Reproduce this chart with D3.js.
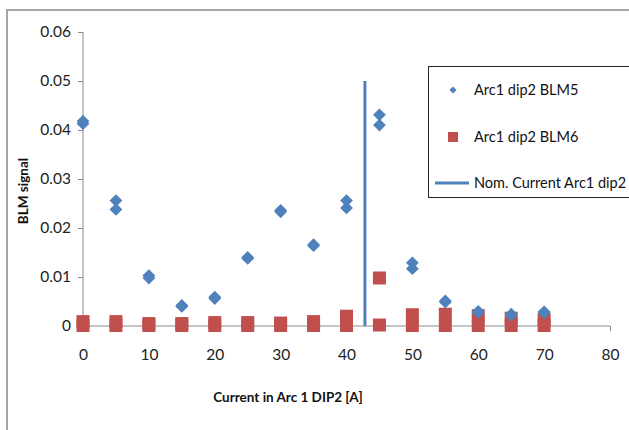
<!DOCTYPE html>
<html>
<head>
<meta charset="utf-8">
<script src="https://cdn.jsdelivr.net/npm/d3@7"></script>
<style>
  body { margin: 0; background: #fff; }
  svg { display: block; font-family: Lato, "Open Sans", sans-serif; }
</style>
</head>
<body>
<div id="chart"></div>
<script>
// currents (A) for each measurement, two readings per setting
var currents = [0, 0, 5, 5, 10, 10, 15, 15, 20, 20, 25, 25, 30, 30, 35, 35,
                40, 40, 45, 45, 50, 50, 55, 55, 60, 60, 65, 65, 70, 70];
var blm5 = [0.0418, 0.0413, 0.0256, 0.0238, 0.0103, 0.0098, 0.0042, 0.0040,
            0.0059, 0.0056, 0.0140, 0.0138, 0.0236, 0.0233, 0.0166, 0.0164,
            0.0256, 0.0241, 0.0431, 0.0410, 0.0129, 0.0117, 0.0051, 0.0049,
            0.0030, 0.0028, 0.0024, 0.0022, 0.0029, 0.0027];
var blm6 = [0.0009, 0.0001, 0.0009, 0.0001, 0.0005, 0.0001, 0.0005, 0.0001,
            0.0007, 0.0001, 0.0007, 0.0001, 0.0006, 0.0001, 0.0009, 0.0001,
            0.0020, 0.0001, 0.0098, 0.0002, 0.0023, 0.0001, 0.0024, 0.0001,
            0.0021, 0.0001, 0.0016, 0.0001, 0.0013, 0.0001];
var nomCurrent = [42.8, 42.8];
var nomSignal = [0, 0.05];
var xTicks = [0, 10, 20, 30, 40, 50, 60, 70, 80];
var yTicks = [0, 0.01, 0.02, 0.03, 0.04, 0.05, 0.06];
var legendNames = ["Arc1 dip2 BLM5", "Arc1 dip2 BLM6", "Nom. Current Arc1 dip2"];

var width = 629, height = 430;
var blue = "#4f81bd", red = "#c0504d", axisGrey = "#8c8c8c";

var svg = d3.select("#chart").append("svg")
    .attr("width", width)
    .attr("height", height);

// outer chart frame (runs off the right and bottom)
svg.append("rect")
    .attr("x", 7).attr("y", 10)
    .attr("width", 700).attr("height", 500)
    .attr("fill", "none")
    .attr("stroke", "#a6a6a6")
    .attr("stroke-width", 2);

var x = d3.scaleLinear().domain([0, 80]).range([83, 610]);
var y = d3.scaleLinear().domain([0, 0.06]).range([326, 32]);

// y axis
var yAxis = svg.append("g")
    .attr("transform", "translate(" + x(0) + ",0)")
    .call(d3.axisLeft(y).tickValues(yTicks).tickSize(5).tickPadding(7)
        .tickFormat(function (d) { return d === 0 ? "0" : d3.format(".2f")(d); }));
yAxis.selectAll("path, line").attr("stroke", axisGrey);
yAxis.select(".domain").attr("d", "M0," + y(0.06) + "V" + y(0));
yAxis.selectAll("text").attr("font-size", 15.5).attr("fill", "#222")
    .attr("font-family", "Lato, sans-serif");

// x axis
var xAxis = svg.append("g")
    .attr("transform", "translate(0," + y(0) + ")")
    .call(d3.axisBottom(x).tickValues(xTicks).tickSize(5).tickPadding(18));
xAxis.selectAll("path, line").attr("stroke", axisGrey);
xAxis.select(".domain").attr("d", "M" + x(0) + ",0H" + x(80));
xAxis.selectAll("text").attr("font-size", 15.5).attr("fill", "#222")
    .attr("font-family", "Lato, sans-serif");

// axis titles
svg.append("text")
    .attr("x", 288).attr("y", 402)
    .attr("text-anchor", "middle")
    .attr("font-size", 13.5).attr("font-weight", "bold")
    .attr("fill", "#111")
    .text("Current in Arc 1 DIP2 [A]");

svg.append("text")
    .attr("transform", "translate(28,191) rotate(-90)")
    .attr("text-anchor", "middle")
    .attr("font-size", 13.5).attr("font-weight", "bold")
    .attr("fill", "#111")
    .text("BLM signal");

// nominal current line
var line = d3.line()
    .x(function (d) { return x(d[0]); })
    .y(function (d) { return y(d[1]); });
svg.append("path")
    .datum(d3.zip(nomCurrent, nomSignal))
    .attr("d", line)
    .attr("stroke", blue)
    .attr("stroke-width", 3)
    .attr("fill", "none");

// BLM6 squares
var sq = 13;
svg.append("g").selectAll("rect")
    .data(d3.zip(currents, blm6))
    .enter().append("rect")
    .attr("x", function (d) { return x(d[0]) - sq / 2; })
    .attr("y", function (d) { return y(d[1]) - sq / 2; })
    .attr("width", sq).attr("height", sq)
    .attr("fill", red);

// BLM5 diamonds
var diamond = d3.symbol().type(d3.symbolSquare).size(82);
svg.append("g").selectAll("path")
    .data(d3.zip(currents, blm5))
    .enter().append("path")
    .attr("d", diamond)
    .attr("transform", function (d) {
        return "translate(" + x(d[0]) + "," + y(d[1]) + ") rotate(45)";
    })
    .attr("fill", blue);

// legend
var legend = svg.append("g");
legend.append("rect")
    .attr("x", 428.5).attr("y", 66.5)
    .attr("width", 260).attr("height", 131)
    .attr("fill", "#fff")
    .attr("stroke", "#222")
    .attr("stroke-width", 1);

var rowY = [90, 137, 183];
legend.selectAll("text")
    .data(legendNames)
    .enter().append("text")
    .attr("x", 474)
    .attr("y", function (d, i) { return rowY[i]; })
    .attr("dy", "0.35em")
    .attr("font-size", 14.5)
    .attr("fill", "#111")
    .text(function (d) { return d; });

legend.append("path")
    .attr("d", d3.symbol().type(d3.symbolSquare).size(26))
    .attr("transform", "translate(453," + rowY[0] + ") rotate(45)")
    .attr("fill", blue);
legend.append("rect")
    .attr("x", 448).attr("y", rowY[1] - 5)
    .attr("width", 10).attr("height", 10)
    .attr("fill", red);
legend.append("line")
    .attr("x1", 435).attr("x2", 469)
    .attr("y1", rowY[2]).attr("y2", rowY[2])
    .attr("stroke", blue)
    .attr("stroke-width", 3);
</script>
</body>
</html>
